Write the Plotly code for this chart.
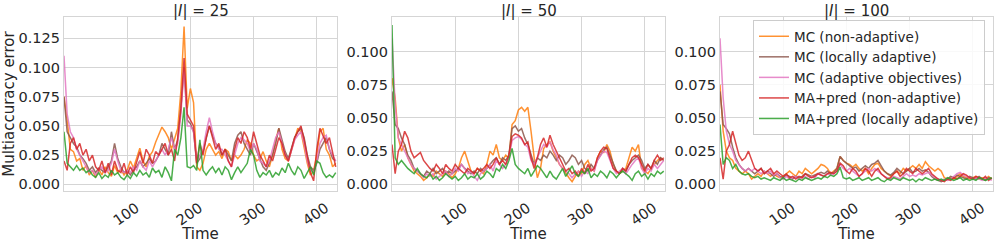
import plotly.graph_objects as go
from plotly.subplots import make_subplots

# pas de temps (une valeur lue tous les 5 pas)
TIME = list(range(0, 431, 5))

SERIES_NAMES = ["MC (non-adaptive)", "MC (locally adaptive)", "MC (adaptive objectives)",
                "MA+pred (non-adaptive)", "MA+pred (locally adaptive)"]
COLORS = ["#ff7f0e", "#8c564b", "#e377c2", "#d62728", "#2ca02c"]
PANEL_TITLES = ["|<i>I</i>| = 25", "|<i>I</i>| = 50", "|<i>I</i>| = 100"]

# |I| = 25
mc_na_25 = [0.075, 0.055, 0.030, 0.028, 0.020, 0.022, 0.012, 0.016, 0.008, 0.012,
            0.006, 0.013, 0.008, 0.015, 0.010, 0.007, 0.016, 0.010, 0.013, 0.008,
            0.012, 0.020, 0.014, 0.022, 0.031, 0.020, 0.015, 0.024, 0.028, 0.036,
            0.043, 0.049, 0.045, 0.040, 0.030, 0.038, 0.048, 0.080, 0.135, 0.065,
            0.082, 0.070, 0.015, 0.012, 0.018, 0.030, 0.035, 0.030, 0.025, 0.028,
            0.022, 0.030, 0.028, 0.020, 0.025, 0.022, 0.025, 0.030, 0.038, 0.035,
            0.025, 0.020, 0.022, 0.028, 0.020, 0.015, 0.025, 0.038, 0.048, 0.030,
            0.022, 0.020, 0.030, 0.040, 0.048, 0.045, 0.030, 0.018, 0.008, 0.012,
            0.025, 0.045, 0.048, 0.030, 0.025, 0.015, 0.018]
mc_la_25 = [0.075, 0.045, 0.040, 0.035, 0.032, 0.025, 0.022, 0.018, 0.012, 0.015,
            0.010, 0.014, 0.012, 0.010, 0.015, 0.020, 0.035, 0.022, 0.015, 0.010,
            0.012, 0.008, 0.012, 0.015, 0.020, 0.015, 0.018, 0.022, 0.018, 0.020,
            0.025, 0.035, 0.030, 0.025, 0.045, 0.030, 0.038, 0.065, 0.100, 0.055,
            0.052, 0.045, 0.018, 0.022, 0.028, 0.040, 0.050, 0.042, 0.035, 0.032,
            0.025, 0.030, 0.025, 0.020, 0.035, 0.042, 0.045, 0.035, 0.030, 0.025,
            0.035, 0.028, 0.022, 0.015, 0.012, 0.018, 0.025, 0.035, 0.048, 0.038,
            0.028, 0.022, 0.030, 0.040, 0.045, 0.048, 0.040, 0.025, 0.015, 0.012,
            0.018, 0.030, 0.035, 0.040, 0.030, 0.022, 0.020]
mc_ao_25 = [0.110, 0.060, 0.045, 0.040, 0.030, 0.025, 0.020, 0.015, 0.010, 0.012,
            0.008, 0.012, 0.015, 0.010, 0.012, 0.018, 0.030, 0.020, 0.012, 0.010,
            0.012, 0.010, 0.015, 0.012, 0.020, 0.015, 0.012, 0.020, 0.015, 0.020,
            0.025, 0.030, 0.025, 0.030, 0.040, 0.030, 0.035, 0.060, 0.100, 0.050,
            0.050, 0.045, 0.020, 0.025, 0.030, 0.045, 0.057, 0.045, 0.035, 0.030,
            0.030, 0.025, 0.020, 0.015, 0.025, 0.035, 0.040, 0.038, 0.035, 0.028,
            0.035, 0.030, 0.020, 0.018, 0.015, 0.020, 0.030, 0.040, 0.045, 0.035,
            0.025, 0.020, 0.028, 0.038, 0.042, 0.045, 0.035, 0.020, 0.012, 0.010,
            0.020, 0.035, 0.040, 0.042, 0.030, 0.025, 0.020]
ma_na_25 = [0.020, 0.012, 0.035, 0.040, 0.030, 0.035, 0.025, 0.030, 0.020, 0.025,
            0.015, 0.012, 0.020, 0.010, 0.018, 0.008, 0.020, 0.012, 0.010, 0.018,
            0.008, 0.015, 0.010, 0.020, 0.028, 0.018, 0.030, 0.025, 0.018, 0.028,
            0.025, 0.030, 0.035, 0.025, 0.030, 0.020, 0.040, 0.065, 0.108, 0.060,
            0.055, 0.050, 0.018, 0.035, 0.025, 0.040, 0.050, 0.040, 0.030, 0.035,
            0.025, 0.030, 0.020, 0.015, 0.030, 0.040, 0.035, 0.045, 0.040, 0.030,
            0.045, 0.035, 0.025, 0.020, 0.015, 0.025, 0.020, 0.030, 0.040, 0.035,
            0.025, 0.020, 0.030, 0.040, 0.045, 0.050, 0.038, 0.025, 0.010, 0.003,
            0.030, 0.048, 0.042, 0.035, 0.040, 0.028, 0.015]
ma_la_25 = [0.045, 0.018, 0.015, 0.012, 0.016, 0.012, 0.014, 0.010, 0.012, 0.008,
            0.006, 0.010, 0.005, 0.008, 0.006, 0.012, 0.008, 0.010, 0.006, 0.004,
            0.008, 0.005, 0.010, 0.007, 0.012, 0.008, 0.010, 0.006, 0.014, 0.010,
            0.012, 0.006, 0.015, 0.010, 0.003, 0.030, 0.025, 0.040, 0.066, 0.015,
            0.014, 0.016, 0.012, 0.038, 0.012, 0.008, 0.012, 0.015, 0.010, 0.014,
            0.008, 0.015, 0.012, 0.004, 0.010, 0.015, 0.010, 0.014, 0.018, 0.030,
            0.025, 0.012, 0.006, 0.010, 0.008, 0.012, 0.006, 0.010, 0.008, 0.014,
            0.010, 0.018, 0.012, 0.008, 0.015, 0.012, 0.005, 0.010, 0.015, 0.008,
            0.020, 0.018, 0.010, 0.006, 0.008, 0.006, 0.010]

# |I| = 50
mc_na_50 = [0.080, 0.065, 0.035, 0.025, 0.030, 0.020, 0.015, 0.010, 0.008, 0.006,
            0.003, 0.005, 0.008, 0.006, 0.010, 0.008, 0.006, 0.010, 0.008, 0.005,
            0.008, 0.012, 0.020, 0.025, 0.018, 0.010, 0.008, 0.012, 0.010, 0.008,
            0.015, 0.025, 0.022, 0.030, 0.020, 0.018, 0.022, 0.020, 0.045, 0.048,
            0.056, 0.058, 0.055, 0.058, 0.040, 0.020, 0.005, 0.012, 0.027, 0.030,
            0.032, 0.025, 0.020, 0.015, 0.012, 0.008, 0.005, 0.002, 0.006, 0.010,
            0.008, 0.015, 0.018, 0.012, 0.010, 0.020, 0.025, 0.024, 0.030, 0.025,
            0.015, 0.010, 0.008, 0.010, 0.012, 0.020, 0.028, 0.025, 0.030, 0.012,
            0.010, 0.008, 0.012, 0.015, 0.018, 0.020, 0.018]
mc_la_50 = [0.070, 0.045, 0.042, 0.035, 0.030, 0.022, 0.018, 0.012, 0.010, 0.008,
            0.006, 0.010, 0.008, 0.012, 0.008, 0.010, 0.012, 0.008, 0.010, 0.008,
            0.010, 0.012, 0.015, 0.012, 0.010, 0.008, 0.010, 0.008, 0.012, 0.010,
            0.012, 0.015, 0.018, 0.020, 0.015, 0.020, 0.018, 0.022, 0.042, 0.044,
            0.040, 0.042, 0.035, 0.030, 0.022, 0.015, 0.020, 0.018, 0.022, 0.020,
            0.025, 0.022, 0.018, 0.022, 0.020, 0.015, 0.018, 0.022, 0.020, 0.015,
            0.018, 0.012, 0.010, 0.015, 0.012, 0.018, 0.022, 0.026, 0.028, 0.022,
            0.015, 0.010, 0.008, 0.012, 0.010, 0.015, 0.018, 0.020, 0.022, 0.018,
            0.012, 0.015, 0.012, 0.018, 0.015, 0.020, 0.018]
mc_ao_50 = [0.110, 0.060, 0.035, 0.030, 0.025, 0.020, 0.015, 0.012, 0.010, 0.008,
            0.005, 0.008, 0.006, 0.008, 0.004, 0.006, 0.008, 0.010, 0.006, 0.008,
            0.012, 0.010, 0.015, 0.012, 0.008, 0.010, 0.006, 0.003, 0.008, 0.010,
            0.012, 0.015, 0.010, 0.018, 0.015, 0.012, 0.015, 0.020, 0.033, 0.035,
            0.036, 0.034, 0.030, 0.028, 0.018, 0.015, 0.020, 0.025, 0.030, 0.028,
            0.032, 0.026, 0.022, 0.015, 0.012, 0.010, 0.008, 0.005, 0.008, 0.010,
            0.006, 0.010, 0.008, 0.012, 0.010, 0.018, 0.022, 0.025, 0.024, 0.018,
            0.012, 0.008, 0.010, 0.012, 0.008, 0.012, 0.015, 0.018, 0.020, 0.012,
            0.008, 0.012, 0.010, 0.015, 0.012, 0.015, 0.018]
ma_na_50 = [0.030, 0.008, 0.025, 0.030, 0.040, 0.035, 0.025, 0.020, 0.022, 0.024,
            0.018, 0.015, 0.012, 0.010, 0.015, 0.012, 0.008, 0.015, 0.012, 0.010,
            0.015, 0.012, 0.010, 0.008, 0.012, 0.010, 0.008, 0.012, 0.010, 0.012,
            0.015, 0.012, 0.015, 0.020, 0.015, 0.018, 0.015, 0.022, 0.036, 0.038,
            0.037, 0.035, 0.030, 0.032, 0.020, 0.012, 0.020, 0.030, 0.035, 0.028,
            0.037, 0.030, 0.025, 0.020, 0.015, 0.010, 0.012, 0.008, 0.010, 0.006,
            0.012, 0.008, 0.015, 0.010, 0.012, 0.020, 0.025, 0.028, 0.027, 0.020,
            0.012, 0.010, 0.008, 0.012, 0.010, 0.015, 0.020, 0.022, 0.020, 0.015,
            0.010, 0.015, 0.012, 0.018, 0.022, 0.018, 0.020]
ma_la_50 = [0.120, 0.020, 0.015, 0.018, 0.015, 0.012, 0.010, 0.008, 0.012, 0.008,
            0.006, 0.005, 0.008, 0.004, 0.006, 0.003, 0.005, 0.008, 0.006, 0.004,
            0.006, 0.003, 0.005, 0.008, 0.004, 0.006, 0.005, 0.008, 0.004, 0.006,
            0.010, 0.008, 0.005, 0.012, 0.010, 0.015, 0.012, 0.018, 0.027, 0.015,
            0.012, 0.010, 0.008, 0.012, 0.006, 0.010, 0.014, 0.012, 0.008, 0.005,
            0.010, 0.006, 0.004, 0.008, 0.012, 0.006, 0.010, 0.014, 0.008, 0.006,
            0.010, 0.008, 0.012, 0.005, 0.008, 0.006, 0.010, 0.008, 0.005, 0.010,
            0.008, 0.005, 0.008, 0.010, 0.008, 0.006, 0.003, 0.008, 0.010, 0.006,
            0.008, 0.004, 0.008, 0.006, 0.010, 0.008, 0.010]

# |I| = 100
mc_na_100 = [0.075, 0.040, 0.025, 0.020, 0.018, 0.012, 0.010, 0.008, 0.010, 0.008,
             0.004, 0.006, 0.008, 0.006, 0.010, 0.008, 0.006, 0.008, 0.006, 0.005,
             0.006, 0.008, 0.010, 0.008, 0.006, 0.010, 0.008, 0.012, 0.010, 0.008,
             0.010, 0.012, 0.015, 0.014, 0.012, 0.008, 0.010, 0.012, 0.021, 0.018,
             0.016, 0.015, 0.013, 0.015, 0.012, 0.010, 0.012, 0.008, 0.012, 0.015,
             0.016, 0.012, 0.010, 0.008, 0.006, 0.008, 0.010, 0.008, 0.012, 0.010,
             0.012, 0.014, 0.012, 0.015, 0.012, 0.017, 0.014, 0.012, 0.010, 0.012,
             0.010, 0.005, 0.004, 0.005, 0.004, 0.006, 0.008, 0.006, 0.005, 0.004,
             0.005, 0.006, 0.004, 0.005, 0.004, 0.006, 0.004]
mc_la_100 = [0.070, 0.045, 0.042, 0.038, 0.028, 0.020, 0.015, 0.012, 0.010, 0.012,
             0.010, 0.008, 0.010, 0.012, 0.008, 0.010, 0.008, 0.006, 0.008, 0.006,
             0.005, 0.007, 0.006, 0.004, 0.006, 0.005, 0.006, 0.008, 0.007, 0.006,
             0.007, 0.008, 0.009, 0.008, 0.010, 0.008, 0.009, 0.012, 0.021, 0.018,
             0.016, 0.014, 0.012, 0.013, 0.010, 0.012, 0.014, 0.012, 0.015, 0.016,
             0.018, 0.014, 0.010, 0.008, 0.007, 0.009, 0.012, 0.010, 0.008, 0.010,
             0.012, 0.009, 0.010, 0.012, 0.010, 0.011, 0.009, 0.006, 0.004, 0.003,
             0.002, 0.003, 0.004, 0.006, 0.005, 0.007, 0.006, 0.005, 0.004, 0.006,
             0.005, 0.004, 0.006, 0.004, 0.003, 0.005, 0.004]
mc_ao_100 = [0.110, 0.065, 0.040, 0.030, 0.025, 0.018, 0.015, 0.012, 0.010, 0.012,
             0.010, 0.012, 0.010, 0.008, 0.010, 0.008, 0.010, 0.007, 0.008, 0.005,
             0.004, 0.006, 0.004, 0.005, 0.006, 0.004, 0.005, 0.006, 0.004, 0.006,
             0.005, 0.008, 0.007, 0.006, 0.008, 0.007, 0.008, 0.010, 0.015, 0.012,
             0.010, 0.012, 0.010, 0.008, 0.006, 0.008, 0.010, 0.012, 0.010, 0.012,
             0.010, 0.008, 0.006, 0.005, 0.004, 0.006, 0.005, 0.004, 0.006, 0.008,
             0.006, 0.007, 0.006, 0.008, 0.007, 0.008, 0.009, 0.007, 0.005, 0.004,
             0.003, 0.004, 0.003, 0.004, 0.006, 0.008, 0.009, 0.007, 0.006, 0.005,
             0.004, 0.005, 0.004, 0.003, 0.005, 0.004, 0.003]
ma_na_100 = [0.020, 0.004, 0.025, 0.030, 0.040, 0.030, 0.022, 0.018, 0.020, 0.025,
             0.018, 0.012, 0.010, 0.012, 0.008, 0.010, 0.012, 0.008, 0.010, 0.008,
             0.006, 0.008, 0.005, 0.006, 0.004, 0.006, 0.005, 0.008, 0.006, 0.005,
             0.006, 0.008, 0.007, 0.006, 0.008, 0.009, 0.008, 0.010, 0.016, 0.014,
             0.010, 0.008, 0.012, 0.010, 0.006, 0.008, 0.012, 0.010, 0.006, 0.010,
             0.012, 0.008, 0.006, 0.004, 0.005, 0.008, 0.010, 0.006, 0.008, 0.012,
             0.010, 0.008, 0.012, 0.010, 0.008, 0.010, 0.012, 0.008, 0.006, 0.004,
             0.003, 0.002, 0.004, 0.003, 0.005, 0.004, 0.006, 0.008, 0.007, 0.005,
             0.004, 0.006, 0.005, 0.004, 0.006, 0.003, 0.005]
ma_la_100 = [0.045, 0.015, 0.020, 0.018, 0.012, 0.015, 0.010, 0.008, 0.007, 0.008,
             0.006, 0.005, 0.006, 0.004, 0.005, 0.004, 0.003, 0.005, 0.004, 0.003,
             0.005, 0.003, 0.004, 0.003, 0.002, 0.004, 0.003, 0.005, 0.004, 0.003,
             0.004, 0.005, 0.004, 0.006, 0.005, 0.007, 0.006, 0.008, 0.013, 0.005,
             0.004, 0.005, 0.003, 0.004, 0.005, 0.003, 0.004, 0.005, 0.003, 0.004,
             0.005, 0.003, 0.002, 0.004, 0.003, 0.005, 0.004, 0.003, 0.005, 0.004,
             0.003, 0.004, 0.002, 0.004, 0.003, 0.005, 0.004, 0.003, 0.004, 0.003,
             0.004, 0.003, 0.005, 0.004, 0.003, 0.004, 0.005, 0.003, 0.004, 0.003,
             0.004, 0.003, 0.005, 0.004, 0.003, 0.004, 0.005]

PANELS = [
    [mc_na_25, mc_la_25, mc_ao_25, ma_na_25, ma_la_25],
    [mc_na_50, mc_la_50, mc_ao_50, ma_na_50, ma_la_50],
    [mc_na_100, mc_la_100, mc_ao_100, ma_na_100, ma_la_100],
]
Y_TICKS = [
    [0.0, 0.025, 0.05, 0.075, 0.1, 0.125],
    [0.0, 0.025, 0.05, 0.075, 0.1],
    [0.0, 0.025, 0.05, 0.075, 0.1],
]
Y_RANGES = [[-0.0057, 0.1432], [-0.005, 0.126], [-0.005, 0.126]]

TEXT = "#262626"
GRID = "#d5d5d5"
FONT = "DejaVu Sans"

W, H = 997, 243
x_domains = [[64 / W, 337 / W], [392 / W, 665 / W], [720 / W, 993 / W]]
y_domain = [1 - 191 / H, 1 - 17 / H]

fig = make_subplots(rows=1, cols=3)

for p, series in enumerate(PANELS):
    for name, color, values in zip(SERIES_NAMES, COLORS, series):
        fig.add_trace(go.Scatter(x=TIME, y=values, mode="lines", name=name,
                                 line=dict(color=color, width=1.5), opacity=0.85,
                                 showlegend=(p == 2)),
                      row=1, col=p + 1)

    fig.update_xaxes(domain=x_domains[p], range=[0, 432], tickvals=[100, 200, 300, 400],
                     tickangle=-35, ticklabelshift=9, ticklabelstandoff=2,
                     showgrid=True, gridcolor=GRID, gridwidth=1,
                     showline=True, linecolor=GRID, linewidth=1.2, mirror=True,
                     zeroline=False, ticks="", tickfont=dict(size=14.5, color=TEXT),
                     title=dict(text="Time", font=dict(size=15, color=TEXT), standoff=0),
                     automargin=False, row=1, col=p + 1)
    fig.update_yaxes(domain=y_domain, range=Y_RANGES[p], tickvals=Y_TICKS[p], tickformat=".3f",
                     showgrid=True, gridcolor=GRID, gridwidth=1,
                     showline=True, linecolor=GRID, linewidth=1.2, mirror=True,
                     zeroline=False, ticks="", tickfont=dict(size=14.5, color=TEXT),
                     automargin=False, row=1, col=p + 1)

    fig.add_annotation(text=PANEL_TITLES[p], xref="paper", yref="paper",
                       x=sum(x_domains[p]) / 2, y=y_domain[1], xanchor="center", yanchor="bottom",
                       yshift=-5, showarrow=False, font=dict(size=15, color=TEXT, family=FONT))

fig.update_yaxes(title=dict(text="Multiaccuracy error", font=dict(size=15, color=TEXT), standoff=4),
                 row=1, col=1)

fig.update_layout(
    width=W, height=H,
    margin=dict(l=0, r=0, t=0, b=0, autoexpand=False),
    paper_bgcolor="white", plot_bgcolor="white",
    font=dict(family=FONT, color=TEXT),
    legend=dict(x=753 / W, y=1 - 20 / H, xanchor="left", yanchor="top",
                bgcolor="rgba(255,255,255,0.85)", bordercolor="#cccccc", borderwidth=1,
                font=dict(size=13.5, color=TEXT), tracegroupgap=0),
)

# la page par défaut a une marge de 8px autour du body
fig.write_html("out.html", config={"displayModeBar": False},
               post_script="document.body.style.margin = '0px';")
